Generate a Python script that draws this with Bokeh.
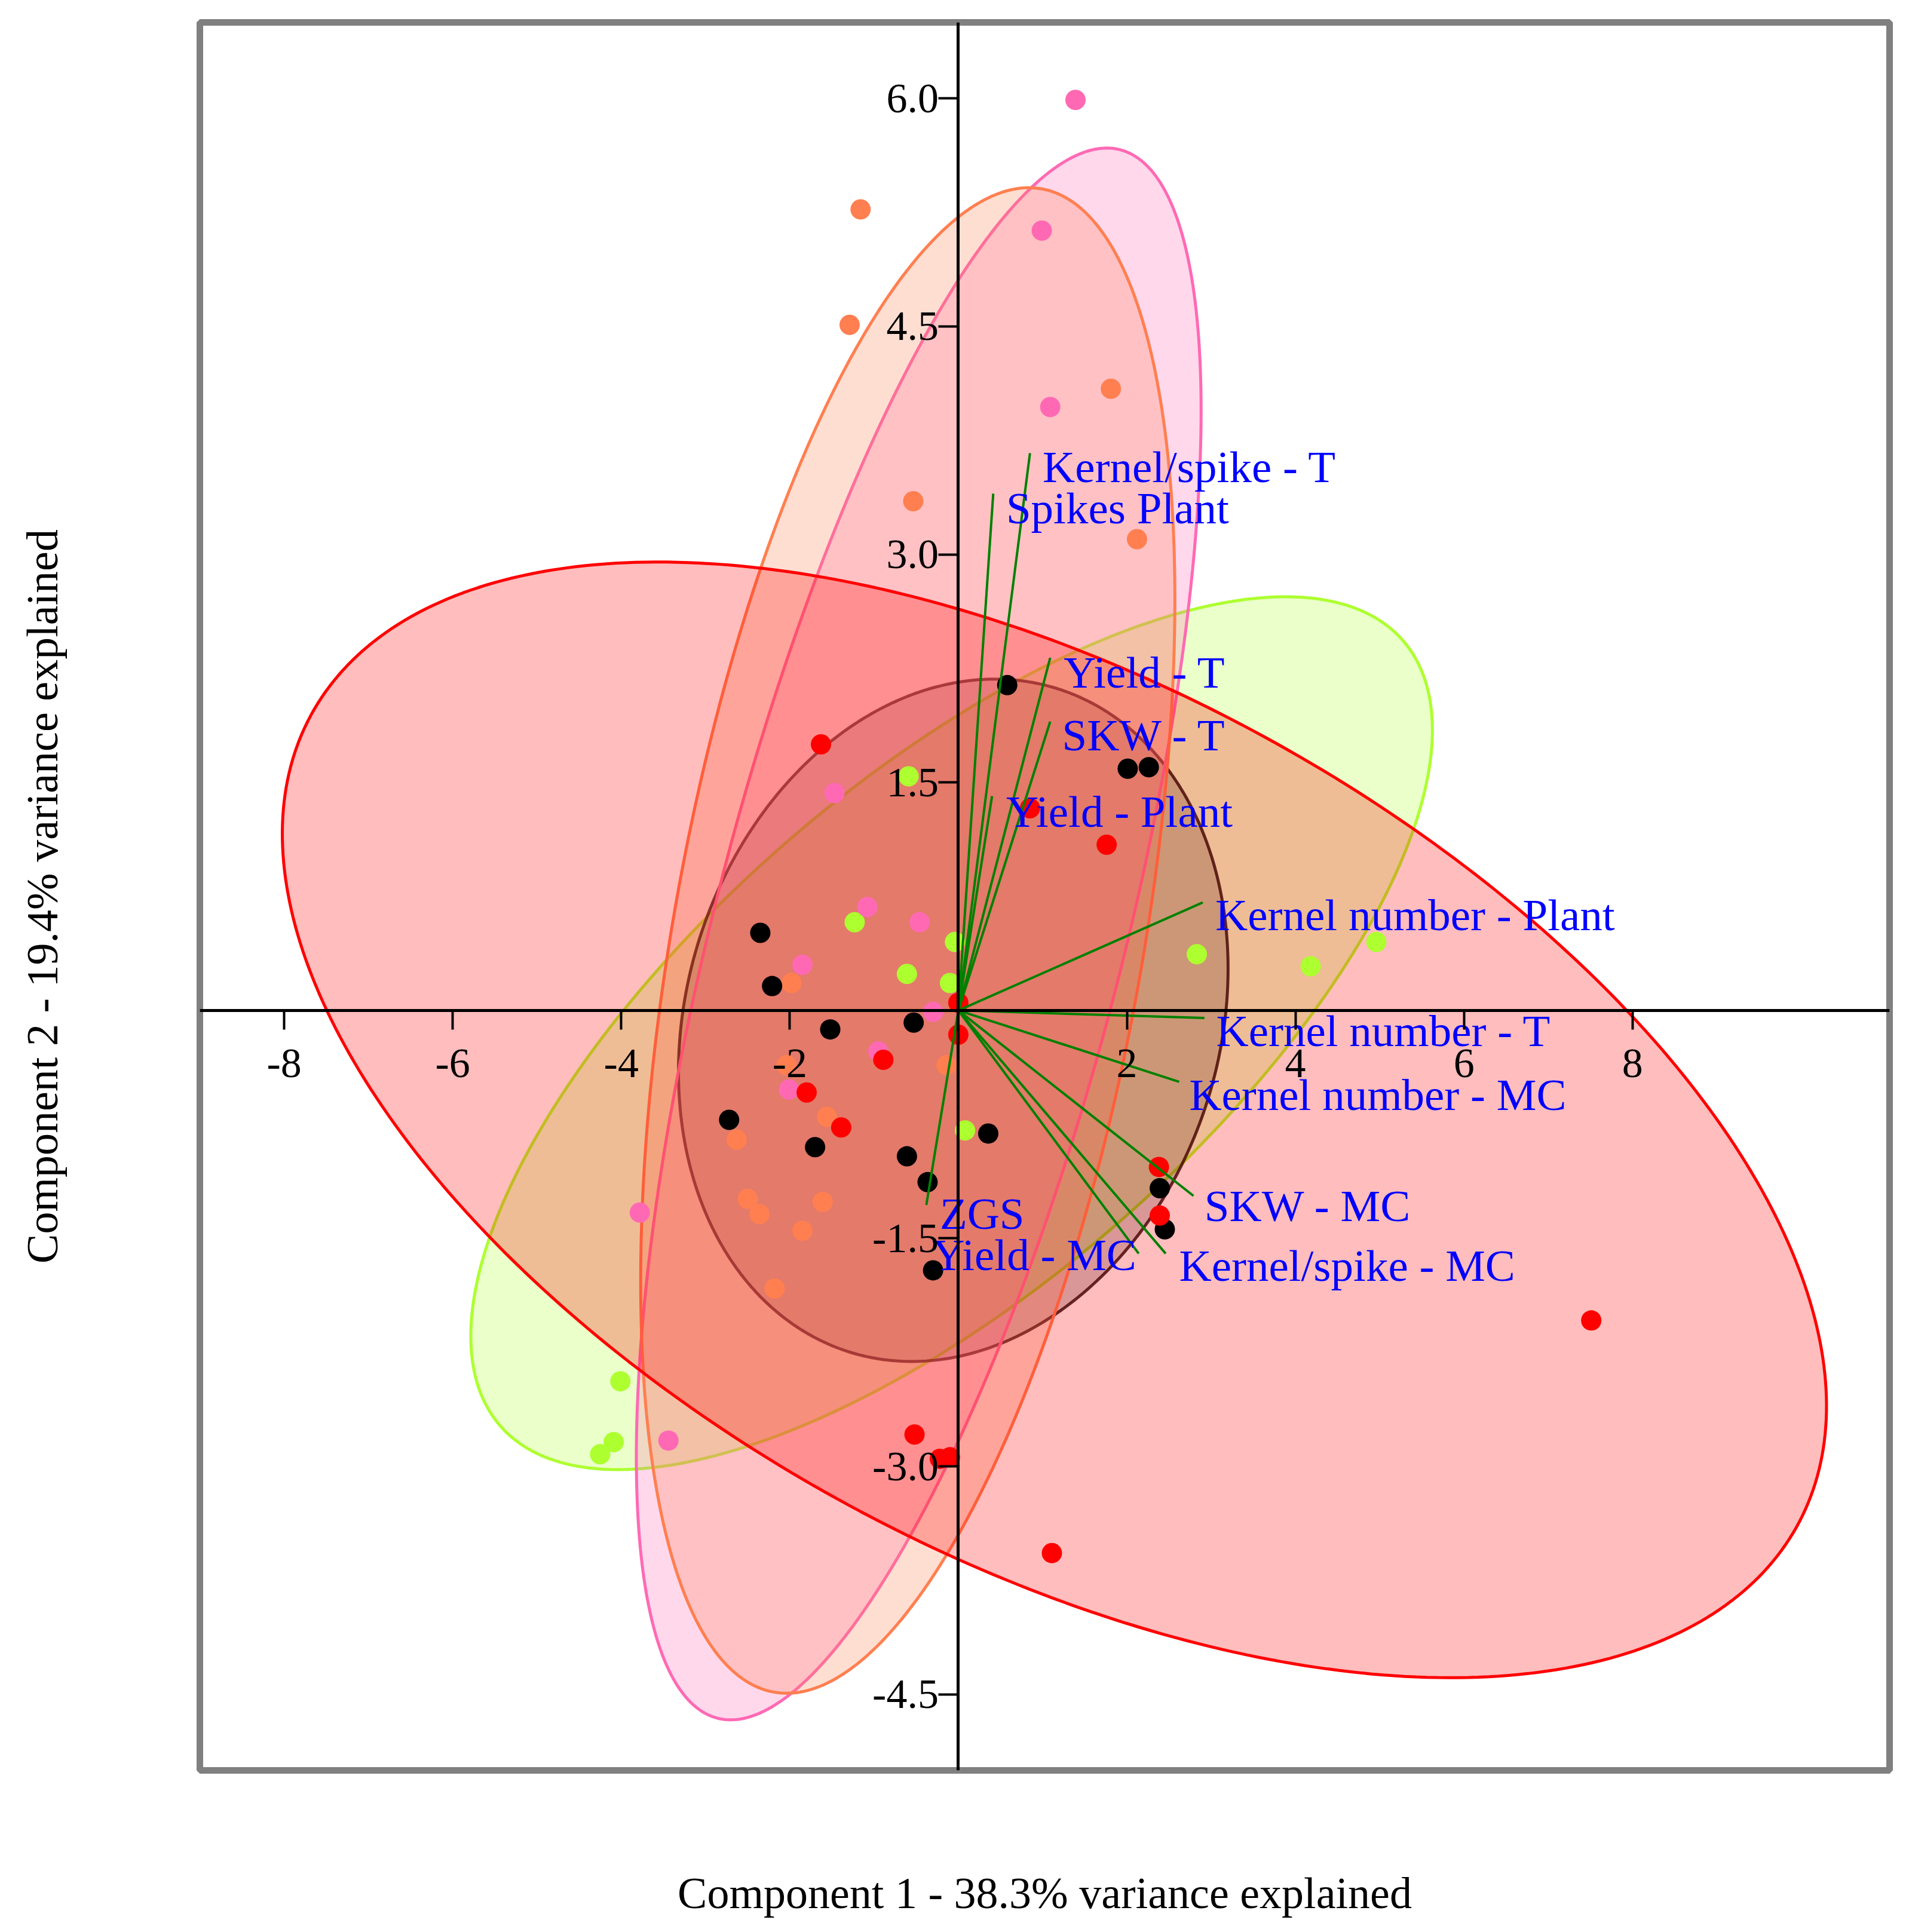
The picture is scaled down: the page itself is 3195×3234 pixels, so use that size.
import numpy as np
from bokeh.plotting import figure
from bokeh.models import LinearAxis, FixedTicker, PrintfTickFormatter, Range1d
from bokeh.core.properties import value
from bokeh.embed import file_html
from bokeh.resources import INLINE

FONT = "Liberation Serif"

# ---------------- data ----------------
x_title = "Component 1 - 38.3% variance explained"
y_title = "Component 2 - 19.4% variance explained"
x_ticks = [-8, -6, -4, -2, 2, 4, 6, 8]
y_ticks = [-4.5, -3.0, -1.5, 1.5, 3.0, 4.5, 6.0]

# group scores (PC1, PC2)
black_x = [0.58, 2.01, 2.26, -2.35, -2.21, -0.53, -1.52, -2.72, -1.70, -0.61, -0.365, 0.355, 2.39, 2.45, -0.30]
black_y = [2.14, 1.59, 1.60, 0.51, 0.16, -0.08, -0.125, -0.72, -0.90, -0.96, -1.13, -0.81, -1.17, -1.44, -1.71]

red_x = [-1.63, 0.85, 1.76, 0.0, 0.0, -0.89, -1.80, -1.39, 2.38, 2.39, 7.51, -0.52, -0.22, -0.10, 1.11]
red_y = [1.75, 1.33, 1.09, 0.05, -0.16, -0.325, -0.54, -0.77, -1.03, -1.35, -2.04, -2.79, -2.95, -2.94, -3.57]

pink_x = [1.39, 0.99, 1.09, -1.47, -1.08, -0.46, -1.85, -0.30, -0.95, -2.01, -3.78, -3.44]
pink_y = [5.99, 5.13, 3.97, 1.43, 0.68, 0.58, 0.30, -0.01, -0.27, -0.52, -1.33, -2.83]

orange_x = [-1.16, -1.29, 1.81, -0.535, 2.12, -1.98, -2.04, -0.14, -2.63, -1.56, -2.50, -2.36, -1.61, -1.85, -2.18]
orange_y = [5.27, 4.51, 4.09, 3.35, 3.10, 0.18, -0.36, -0.36, -0.85, -0.70, -1.24, -1.34, -1.26, -1.45, -1.83]

green_x = [-0.59, -1.23, -0.61, -0.10, -0.04, 2.83, 4.18, 4.96, 0.08, -4.01, -4.09, -4.25]
green_y = [1.54, 0.58, 0.24, 0.18, 0.45, 0.37, 0.29, 0.45, -0.79, -2.44, -2.84, -2.92]

# confidence ellipses: centre, semi-axes, rotation (degrees, data space)
ell_group = ["greenyellow", "black", "pink", "orange", "red"]
ell_cx = [-0.08, -0.06, -0.47, -0.60, 1.14]
ell_cy = [-0.15, -0.065, 0.503, 0.46, -0.72]
ell_a = [6.086, 3.293, 5.734, 5.238, 9.377]
ell_b = [1.937, 2.197, 2.254, 2.671, 3.078]
ell_ang = [21.55, 10.8, 61.95, 67.75, -13.04]

# loadings
load_names = ["Kernel/spike - T", "Spikes Plant", "Yield - T", "SKW - T", "Yield - Plant",
              "Kernel number - Plant", "Kernel number - T", "Kernel number - MC", "SKW - MC",
              "Kernel/spike - MC", "ZGS", "Yield - MC"]
load_x = [0.85, 0.414, 1.09, 1.09, 0.40, 2.90, 2.92, 2.62, 2.79, 2.46, -0.38, 2.14]
load_y = [3.666, 3.40, 2.32, 1.90, 1.41, 0.71, -0.05, -0.47, -1.22, -1.60, -1.28, -1.60]
label_x = [1.00, 0.567, 1.25, 1.23, 0.567, 3.05, 3.06, 2.74, 2.92, 2.62, -0.22, -0.31]
label_y = [3.577, 3.305, 2.225, 1.81, 1.31, 0.63, -0.134, -0.555, -1.286, -1.68, -1.337, -1.61]

COLORS = {"black": "#000000", "red": "#FF0000", "pink": "#FF69B4",
          "orange": "#FF7F50", "greenyellow": "#ADFF2F"}

# ---------------- figure ----------------
p = figure(width=3187, height=3226,
           x_range=Range1d(-9.0, 11.05), y_range=Range1d(-5.0, 6.5),
           output_backend="svg", toolbar_location=None,
           min_border_left=334, min_border_right=25, min_border_top=37, min_border_bottom=263)
p.grid.visible = False
p.outline_line_color = "#808080"
p.outline_line_width = 11
p.background_fill_color = "white"
p.border_fill_color = "white"

# outer axes carry only the titles
for ax, lab, so in [(p.below[0], x_title, 164), (p.left[0], y_title, 223)]:
    ax.ticker = FixedTicker(ticks=[])
    ax.axis_line_color = None
    ax.major_tick_line_color = None
    ax.minor_tick_line_color = None
    ax.major_label_text_font_size = "0px"
    ax.axis_label = lab
    ax.axis_label_text_font = FONT
    ax.axis_label_text_font_size = "74px"
    ax.axis_label_text_font_style = "normal"
    ax.axis_label_text_color = "black"
    ax.axis_label_standoff = so

# ellipses
t = np.linspace(0, 2 * np.pi, 400)
for g, cx, cy, a, b, ang in zip(ell_group, ell_cx, ell_cy, ell_a, ell_b, ell_ang):
    th = np.radians(ang)
    ex = cx + a * np.cos(t) * np.cos(th) - b * np.sin(t) * np.sin(th)
    ey = cy + a * np.cos(t) * np.sin(th) + b * np.sin(t) * np.cos(th)
    c = COLORS[g]
    p.patch(ex, ey, fill_color=c, fill_alpha=0.2 if g == "black" else 0.26,
            line_color=c, line_width=5, line_alpha=0.8 if g == "black" else 1.0)

# points
for xs, ys, g in [(green_x, green_y, "greenyellow"), (pink_x, pink_y, "pink"),
                  (orange_x, orange_y, "orange"), (black_x, black_y, "black"),
                  (red_x, red_y, "red")]:
    p.scatter(xs, ys, size=34, fill_color=COLORS[g], line_color=None)

# loading vectors
p.segment(x0=[0] * len(load_x), y0=[0] * len(load_y), x1=load_x, y1=load_y,
          line_color="#008000", line_width=4)
p.text(x=label_x, y=label_y, text=load_names, text_font=value(FONT),
       text_font_size="75px", text_color="#0000FF",
       text_baseline="alphabetic", text_align="left")

# axes through the origin
xa = LinearAxis(fixed_location=0, ticker=FixedTicker(ticks=x_ticks),
                formatter=PrintfTickFormatter(format="%d"))
ya = LinearAxis(fixed_location=0, ticker=FixedTicker(ticks=y_ticks),
                formatter=PrintfTickFormatter(format="%.1f"))
for ax in (xa, ya):
    ax.axis_line_width = 5
    ax.axis_line_color = "black"
    ax.major_tick_line_width = 4
    ax.major_tick_line_color = "black"
    ax.major_tick_in = 0
    ax.minor_tick_out = 0
    ax.minor_tick_in = 0
    ax.major_label_text_font = FONT
    ax.major_label_text_font_size = "70px"
    ax.major_label_text_color = "black"
xa.major_tick_out = 32
xa.major_label_standoff = 34
ya.major_tick_out = 33
ya.major_label_standoff = 0
p.add_layout(xa, "below")
p.add_layout(ya, "left")

open("out.html", "w").write(file_html(p, INLINE))
